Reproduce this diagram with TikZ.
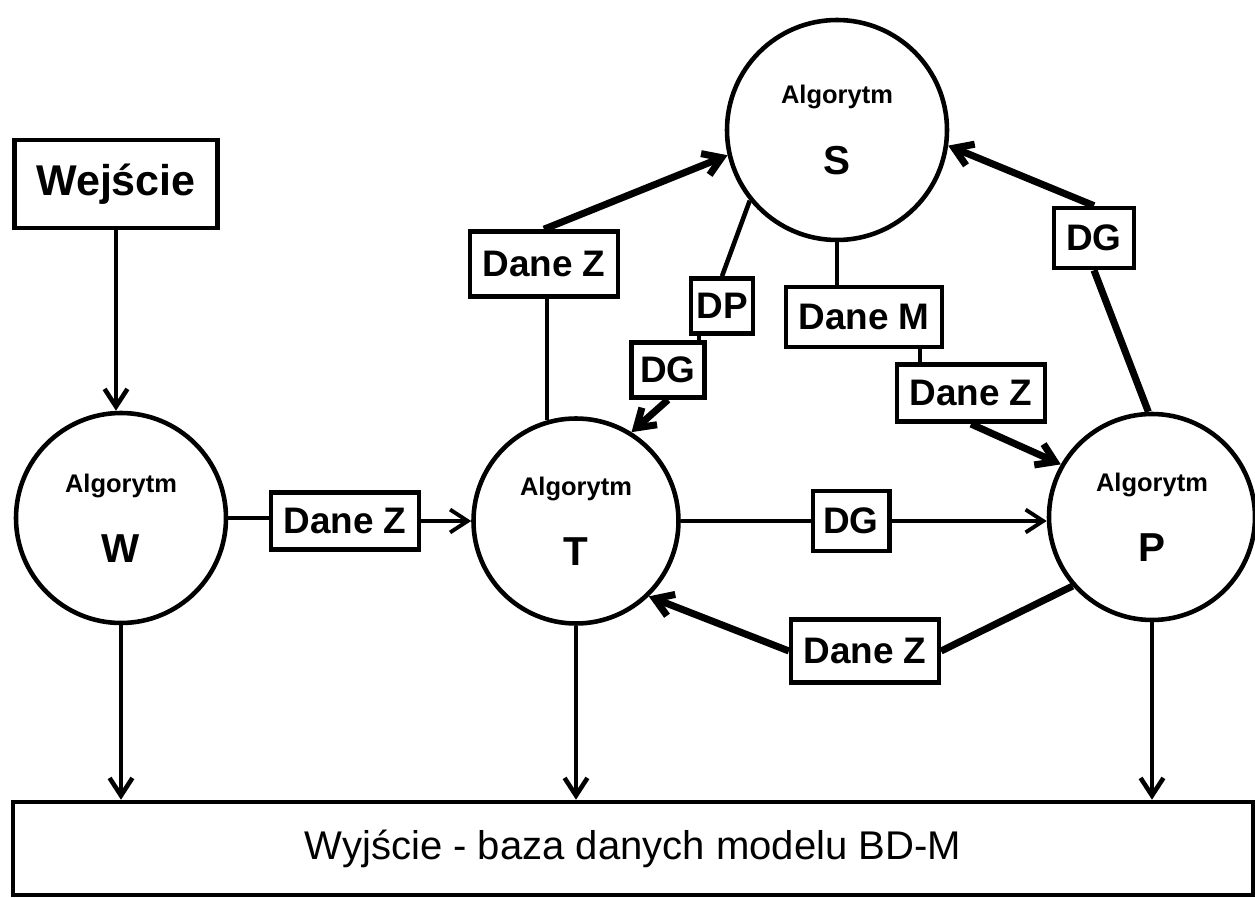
\documentclass[tikz,border=0pt]{standalone}
\usepackage{fontspec}
\setmainfont{Liberation Sans}
\usetikzlibrary{arrows.meta}
\begin{document}
\begin{tikzpicture}[
	thin link/.style={line width=2.2pt},
	mid link/.style={line width=2.6pt},
	heavy link/.style={line width=4pt},
	tip/.style={-{Straight Barb[length=10pt,width=13pt]}},
	algo/.style={circle,draw,line width=2.6pt,minimum size=4.2cm,inner sep=0pt,align=center,
		font=\bfseries\fontsize{14.5}{17}\selectfont},
	datbox/.style={draw,line width=2.6pt,inner xsep=7pt,inner ysep=0pt,minimum height=1.15cm,
		font=\bfseries\fontsize{21}{25}\selectfont},
]
	\useasboundingbox (0,0) rectangle (25.1,-17.96);
	% wejscie i wyjscie
	\node[draw,line width=2.6pt,minimum width=4.06cm,minimum height=1.76cm,
		font=\bfseries\fontsize{24.5}{29}\selectfont] (wej) at (2.32,-3.68) {Wejście};
	\node[draw,line width=2.6pt,minimum width=24.8cm,minimum height=1.86cm,
		font=\fontsize{22.8}{27}\selectfont] (wyj) at (12.66,-16.97) {Wyjście - baza danych modelu BD-M};
	% algorytmy
	\node[algo] (W) at (2.42,-10.36) {Algorytm\\[20pt]{\fontsize{23}{27}\selectfont W}};
	\node[algo,minimum size=4.1cm] (T) at (11.52,-10.42) {Algorytm\\[20pt]{\fontsize{23}{27}\selectfont T}};
	\node[algo,minimum size=4.4cm] (S) at (16.74,-2.6) {Algorytm\\[20pt]{\fontsize{23}{27}\selectfont S}};
	\node[algo,minimum size=4.12cm] (P) at (23.04,-10.34) {Algorytm\\[20pt]{\fontsize{23}{27}\selectfont P}};
	% dane
	\node[datbox] (dzWT) at (6.9,-10.42) {Dane Z};
	\node[datbox,minimum height=1.3cm] (dzTS) at (10.88,-5.28) {Dane Z};
	\node[datbox,inner xsep=3pt,minimum height=1.1cm] (dpST) at (14.44,-6.12) {DP};
	\node[datbox,inner xsep=5pt,minimum height=1.1cm] (dgST) at (13.36,-7.40) {DG};
	\node[datbox,minimum height=1.2cm] (dmS) at (17.28,-6.34) {Dane M};
	\node[datbox] (dzSP) at (19.42,-7.86) {Dane Z};
	\node[datbox,inner xsep=7pt,minimum height=1.2cm] (dgPS) at (21.88,-4.76) {DG};
	\node[datbox,inner xsep=6pt,minimum height=1.2cm] (dgTP) at (17.02,-10.42) {DG};
	\node[datbox,minimum height=1.25cm] (dzPT) at (17.3,-13.02) {Dane Z};
	% W
	\draw[mid link,tip] (wej.south) -- (wej.south |- W.north);
	\draw[thin link] (W.east) -- (W.east -| dzWT.west);
	\draw[thin link,tip] (dzWT.east) -- (dzWT.east -| T.west);
	% T -> S
	\draw[thin link] (T.106) -- (T.106 |- dzTS.south);
	\draw[heavy link,tip] (dzTS.north) -- (S.193);
	% S -> T
	\draw[mid link] (S.219) -- (dpST.north);
	\draw[mid link] ([xshift=0.2cm]dpST.south west) -- ([xshift=0.2cm]dpST.south west |- dgST.north);
	\draw[heavy link,tip] (dgST.south) -- (T.58);
	% S -> P
	\draw[mid link] (S.south) -- (S.south |- dmS.north);
	\draw[mid link] ([xshift=0.5cm]dzSP.north west) -- ([xshift=0.5cm]dzSP.north west |- dmS.south);
	\draw[heavy link,tip] (dzSP.south) -- (P.150);
	% P -> S
	\draw[heavy link] (P.92) -- (dgPS.south);
	\draw[heavy link,tip] (dgPS.north) -- (S.-8);
	% T -> P
	\draw[thin link] (T.east) -- (T.east -| dgTP.west);
	\draw[thin link,tip] (dgTP.east) -- (dgTP.east -| P.west);
	% P -> T
	\draw[heavy link] (P.221) -- (dzPT.east);
	\draw[heavy link,tip] (dzPT.west) -- (T.-46);
	% wyjscie
	\draw[mid link,tip] (W.south) -- (W.south |- wyj.north);
	\draw[mid link,tip] (T.south) -- (T.south |- wyj.north);
	\draw[mid link,tip] (P.south) -- (P.south |- wyj.north);
\end{tikzpicture}
\end{document}
